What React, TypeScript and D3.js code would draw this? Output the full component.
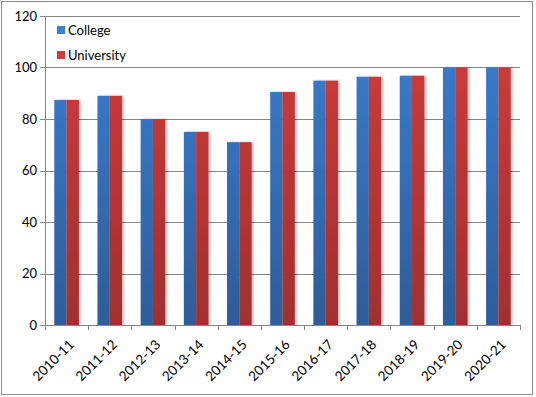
import React, { useEffect, useMemo } from 'react';
import * as d3 from 'd3';

const years = ['2010-11', '2011-12', '2012-13', '2013-14', '2014-15', '2015-16', '2016-17', '2017-18', '2018-19', '2019-20', '2020-21'];
const college = [87.4, 89, 80, 75, 71, 90.5, 94.9, 96.4, 96.8, 100, 100];
const university = [87.4, 89, 80, 75, 71, 90.5, 94.9, 96.4, 96.8, 100, 100];
const seriesNames = ['College', 'University'];
const yTicks = [0, 20, 40, 60, 80, 100, 120];

const W = 536;
const H = 397;
const margin = { top: 16, right: 16, bottom: 72, left: 45 };
const font = 'Lato, "Open Sans", sans-serif';

const App = () => {
  useEffect(() => {
    document.body.style.margin = '0';
  }, []);

  const { x, xInner, y } = useMemo(() => {
    const xScale = d3.scaleBand()
      .domain(years)
      .range([margin.left, W - margin.right])
      .paddingInner(0.43)
      .paddingOuter(0.215);
    const inner = d3.scaleBand().domain(seriesNames).range([0, xScale.bandwidth()]);
    const yScale = d3.scaleLinear().domain([0, 120]).range([H - margin.bottom, margin.top]);
    return { x: xScale, xInner: inner, y: yScale };
  }, []);

  const step = x.step();
  const x0 = margin.left;
  const x1 = W - margin.right;
  const colors = [
    ['#3b7fd3', '#2d5d99'],
    ['#d23d3b', '#a12f2f'],
  ];
  const rows = [college, university];

  return (
    <svg width={W} height={H} style={{ display: 'block' }}>
      <defs>
        {colors.map((c, i) => (
          <linearGradient key={i} id={`g${i}`} x1="0" y1="0" x2="0" y2="1" gradientUnits="userSpaceOnUse"
            gradientTransform={`translate(0,${margin.top}) scale(1,${H - margin.bottom - margin.top})`}>
            <stop offset="0" stopColor={c[0]} />
            <stop offset="1" stopColor={c[1]} />
          </linearGradient>
        ))}
        <filter id="shadow" x="-30%" y="-10%" width="160%" height="120%">
          <feGaussianBlur in="SourceAlpha" stdDeviation="1.2" />
          <feOffset dx="1.5" dy="0" result="b" />
          <feComponentTransfer><feFuncA type="linear" slope="0.25" /></feComponentTransfer>
          <feMerge><feMergeNode /><feMergeNode in="SourceGraphic" /></feMerge>
        </filter>
      </defs>
      <rect x={1.5} y={1.5} width={531} height={393} fill="#fff" stroke="#8c8c8c" strokeWidth={1} />

      {yTicks.map(t => (
        <g key={t}>
          {t > 0 && <line x1={x0} x2={x1} y1={Math.round(y(t)) + 0.5} y2={Math.round(y(t)) + 0.5} stroke="#868686" strokeWidth={1} />}
          <line x1={x0 - 5} x2={x0} y1={Math.round(y(t)) + 0.5} y2={Math.round(y(t)) + 0.5} stroke="#868686" />
          <text x={x0 - 8} y={y(t)} dy="0.35em" textAnchor="end" fontFamily={font} fontSize={13} fill="#000">{t}</text>
        </g>
      ))}

      {rows.map((vals, si) => (
        <g key={si} filter="url(#shadow)">
          {vals.map((v, i) => (
            <rect key={i}
              x={(x(years[i]) as number) + (xInner(seriesNames[si]) as number)}
              y={y(v)}
              width={xInner.bandwidth()}
              height={y(0) - y(v)}
              fill={`url(#g${si})`} />
          ))}
        </g>
      ))}

      <line x1={x0 + 0.5} x2={x0 + 0.5} y1={margin.top} y2={y(0)} stroke="#868686" />
      <line x1={x0} x2={x1} y1={Math.round(y(0)) + 0.5} y2={Math.round(y(0)) + 0.5} stroke="#868686" />
      {d3.range(years.length + 1).map(i => (
        <line key={i} x1={Math.round(x0 + i * step) + 0.5} x2={Math.round(x0 + i * step) + 0.5}
          y1={y(0)} y2={y(0) + 5} stroke="#868686" />
      ))}
      {years.map(yr => {
        const cx = (x(yr) as number) + x.bandwidth() / 2 + 5;
        const cy = y(0) + 17;
        return (
          <text key={yr} transform={`translate(${cx},${cy}) rotate(-45)`} textAnchor="end" dy="0.35em"
            fontFamily={font} fontSize={13.5} fill="#000">{yr}</text>
        );
      })}

      {seriesNames.map((s, i) => (
        <g key={s} transform={`translate(57,${30 + i * 25})`}>
          <rect x={0} y={-4} width={8} height={8} fill={colors[i][0]} />
          <text x={11} y={0} dy="0.35em" fontFamily={font} fontSize={13} fill="#000">{s}</text>
        </g>
      ))}
    </svg>
  );
};

export default App;
